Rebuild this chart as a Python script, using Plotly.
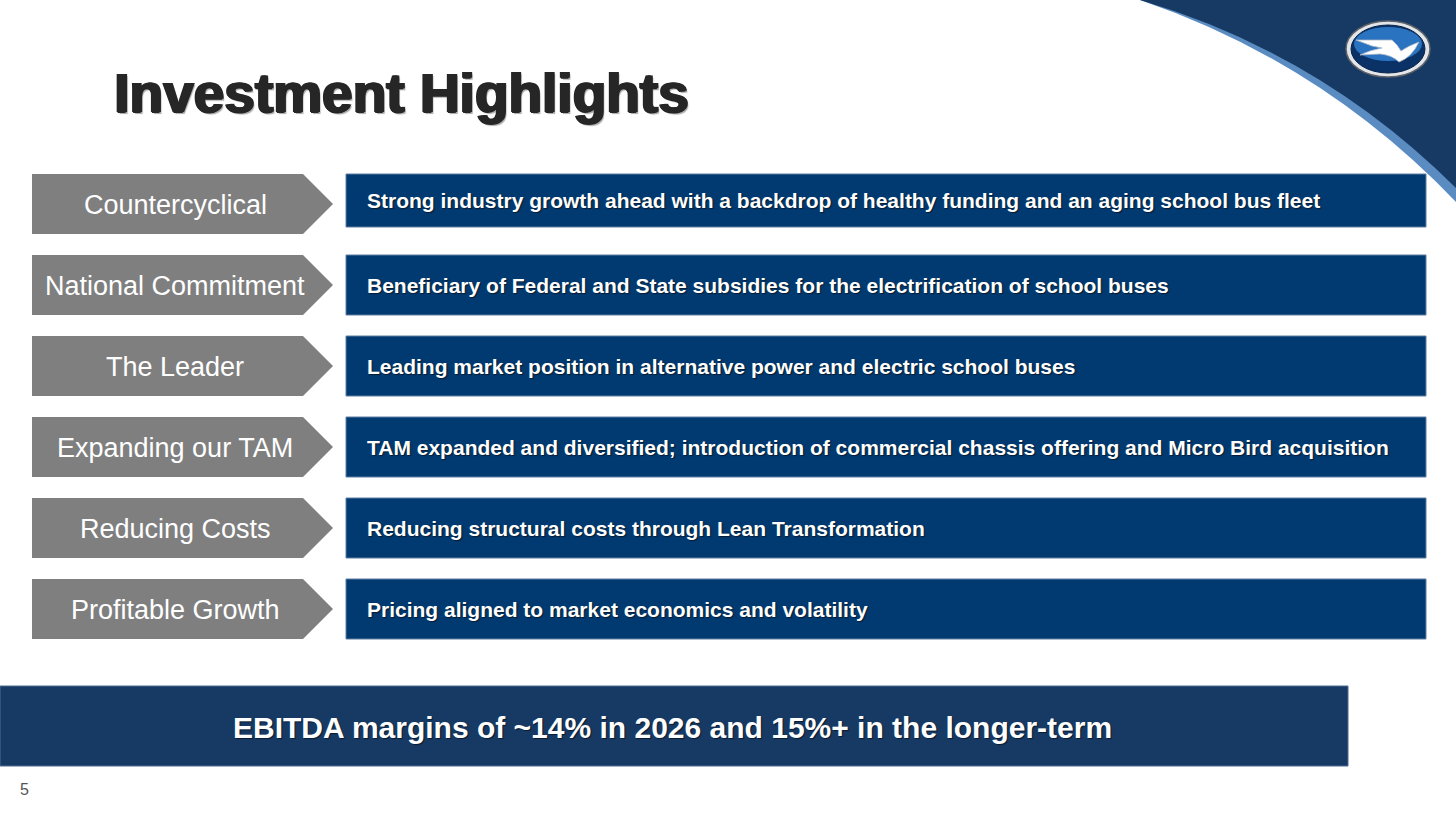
import plotly.graph_objects as go

W, H = 1456, 817

TITLE = "Investment Highlights"
LABELS = [
    "Countercyclical",
    "National Commitment",
    "The Leader",
    "Expanding our TAM",
    "Reducing Costs",
    "Profitable Growth",
]
DETAILS = [
    "Strong industry growth ahead with a backdrop of healthy funding and an aging school bus fleet",
    "Beneficiary of Federal and State subsidies for the electrification of school buses",
    "Leading market position in alternative power and electric school buses",
    "TAM expanded and diversified; introduction of commercial chassis offering and Micro Bird acquisition",
    "Reducing structural costs through Lean Transformation",
    "Pricing aligned to market economics and volatility",
]
BANNER = "EBITDA margins of ~14% in 2026 and 15%+ in the longer-term"
PAGE = "5"

GREY = "#7f7f7f"
BOX_BLUE = "#003a70"
NAVY = "#173a64"
EDGE_BLUE = "#5a8cc2"
FONT = "Liberation Sans, Arial, sans-serif"

# row geometry (pixels)
ROW_TOP, ROW_H, ROW_STEP = 174, 60, 81
ARROW_X0, ARROW_BODY, ARROW_TIP = 32, 303, 333
BOX_X0, BOX_X1 = 346, 1426


def build_fig():
    fig = go.Figure()
    shapes, ann = [], []

    # top-right swoosh
    shapes.append(dict(type="path", path="M 1140 0 Q 1322 62 1456 202 L 1456 0 Z",
                       fillcolor=EDGE_BLUE, line_width=0, layer="below"))
    shapes.append(dict(type="path", path="M 1140 0 Q 1322 54 1456 188 L 1456 0 Z",
                       fillcolor=NAVY, line_width=0, layer="below"))

    # logo
    cx, cy = 1388, 49
    shapes.append(dict(type="circle", x0=cx - 42, x1=cx + 42, y0=cy - 28, y1=cy + 28,
                       fillcolor="#e3e6e8", line=dict(color="#5d6368", width=1.5)))
    shapes.append(dict(type="circle", x0=cx - 37, x1=cx + 37, y0=cy - 24, y1=cy + 24,
                       fillcolor="#0b3266", line=dict(color="#07234a", width=1)))
    shapes.append(dict(type="circle", x0=cx - 34, x1=cx + 34, y0=cy - 22, y1=cy + 12,
                       fillcolor="#2f7fd0", line_width=0, opacity=0.85))
    shapes.append(dict(type="path",
                       path=f"M {cx-32} {cy-9} L {cx+4} {cy-9} Q {cx+10} {cy-4} {cx+13} {cy+2} "
                            f"Q {cx+20} {cy-3} {cx+31} {cy-7} Q {cx+24} {cy+8} {cx+11} {cy+13} "
                            f"Q {cx+4} {cy+6} {cx-8} {cy+5} L {cx-28} {cy+6} Q {cx-18} {cy+1} {cx-6} {cy-1} "
                            f"L {cx-16} {cy-3} Z",
                       fillcolor="white", line=dict(color="#aab6c4", width=0.8)))

    # title
    ann.append(dict(x=112, y=93, text=f"<b>{TITLE}</b>", xanchor="left", yanchor="middle",
                    showarrow=False,
                    font=dict(family=FONT, size=55, color="#262626",
                              shadow="1.5px 0 0 #262626, -1px 0 0 #262626, 0 1px 0 #262626, "
                                     "2px 2px 1px #a8a8a8")))

    for i, (lab, det) in enumerate(zip(LABELS, DETAILS)):
        y0 = ROW_TOP + i * ROW_STEP
        y1 = y0 + ROW_H
        ym = (y0 + y1) / 2
        shapes.append(dict(type="path",
                           path=f"M {ARROW_X0} {y0} L {ARROW_BODY} {y0} L {ARROW_TIP} {ym} "
                                f"L {ARROW_BODY} {y1} L {ARROW_X0} {y1} Z",
                           fillcolor=GREY, line_width=0))
        by1 = y1 - 7 if i == 0 else y1
        shapes.append(dict(type="rect", x0=BOX_X0, x1=BOX_X1, y0=y0, y1=by1,
                           fillcolor=BOX_BLUE, line=dict(color="#5f7fa3", width=1)))
        ann.append(dict(x=175, y=ym + 1, text=lab, showarrow=False, xanchor="center",
                        yanchor="middle", font=dict(family=FONT, size=27, color="white")))
        ann.append(dict(x=365, y=(y0 + by1) / 2, text=f"<b>{det}</b>", showarrow=False,
                        xanchor="left", yanchor="middle",
                        font=dict(family=FONT, size=21, color="white",
                                  shadow="1px 1px 1px #0a1a30")))

    # bottom banner
    shapes.append(dict(type="rect", x0=0, x1=1348, y0=686, y1=766,
                       fillcolor=NAVY, line=dict(color="#4d6d92", width=1)))
    ann.append(dict(x=672, y=727, text=f"<b>{BANNER}</b>", showarrow=False,
                    xanchor="center", yanchor="middle",
                    font=dict(family=FONT, size=30, color="white",
                              shadow="1px 1px 1px #0a1a30")))
    ann.append(dict(x=18, y=789, text=PAGE, showarrow=False, xanchor="left",
                    yanchor="middle", font=dict(family=FONT, size=16, color="#555555")))

    fig.update_layout(
        width=W, height=H,
        margin=dict(l=0, r=0, t=0, b=0),
        paper_bgcolor="white", plot_bgcolor="white",
        xaxis=dict(range=[0, W], visible=False, fixedrange=True),
        yaxis=dict(range=[H, 0], visible=False, fixedrange=True),
        shapes=shapes, annotations=ann, showlegend=False,
    )
    return fig


if __name__ == "__main__":
    build_fig().write_html("out.html", config={"displayModeBar": False},
                           post_script="document.body.style.margin='0';")
